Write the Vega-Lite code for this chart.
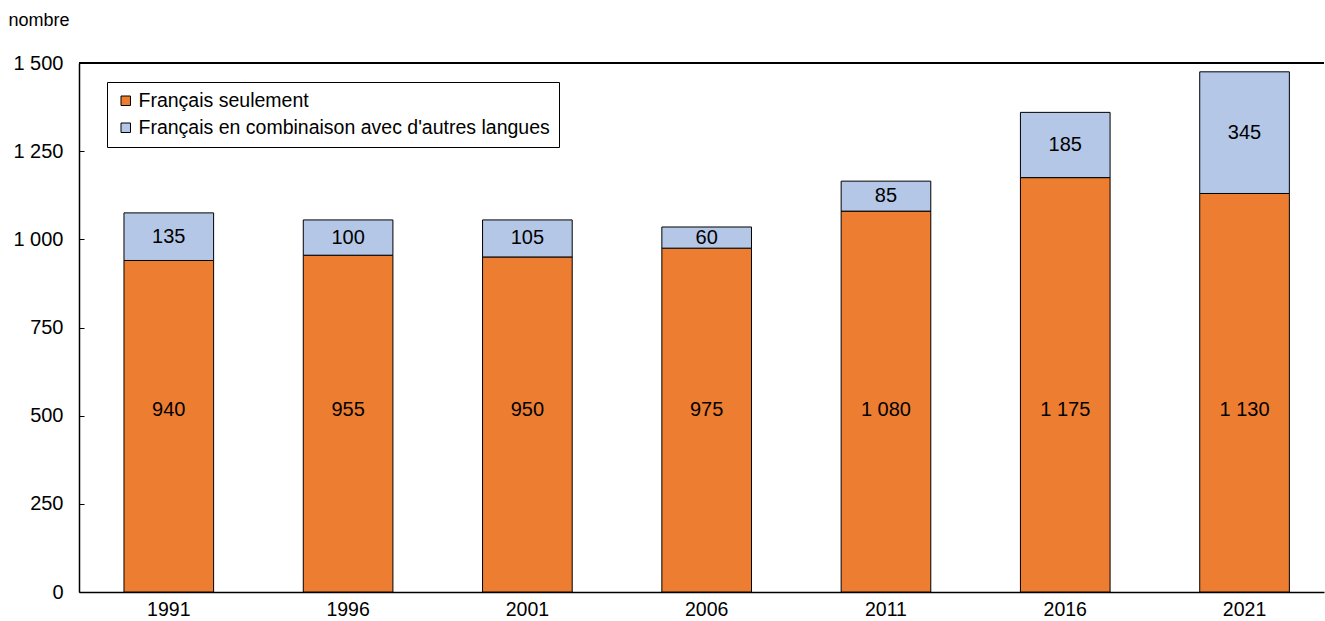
{
  "$schema": "https://vega.github.io/schema/vega-lite/v6.json",
  "width": 1245,
  "height": 529,
  "autosize": {"type": "none"},
  "padding": {"left": 79, "top": 63, "right": 1, "bottom": 29},
  "background": "white",
  "config": {
    "locale": {"number": {"decimal": ",", "thousands": " ", "grouping": [3], "currency": ["", " $"]}},
    "view": {"stroke": null},
    "font": "Liberation Sans",
    "axis": {"domainColor": "black", "labelColor": "black", "tickColor": "black", "grid": false, "labelFont": "Liberation Sans", "labelFontSize": 19.5, "titleFont": "Liberation Sans"},
    "legend": {"labelFont": "Liberation Sans", "labelFontSize": 19.5, "labelColor": "black", "labelLimit": 600}
  },
  "data": {
    "values": [
      {"annee": "1991", "serie": "Français seulement", "nombre": 940, "rang": 1},
      {"annee": "1991", "serie": "Français en combinaison avec d'autres langues", "nombre": 135, "rang": 2},
      {"annee": "1996", "serie": "Français seulement", "nombre": 955, "rang": 1},
      {"annee": "1996", "serie": "Français en combinaison avec d'autres langues", "nombre": 100, "rang": 2},
      {"annee": "2001", "serie": "Français seulement", "nombre": 950, "rang": 1},
      {"annee": "2001", "serie": "Français en combinaison avec d'autres langues", "nombre": 105, "rang": 2},
      {"annee": "2006", "serie": "Français seulement", "nombre": 975, "rang": 1},
      {"annee": "2006", "serie": "Français en combinaison avec d'autres langues", "nombre": 60, "rang": 2},
      {"annee": "2011", "serie": "Français seulement", "nombre": 1080, "rang": 1},
      {"annee": "2011", "serie": "Français en combinaison avec d'autres langues", "nombre": 85, "rang": 2},
      {"annee": "2016", "serie": "Français seulement", "nombre": 1175, "rang": 1},
      {"annee": "2016", "serie": "Français en combinaison avec d'autres langues", "nombre": 185, "rang": 2},
      {"annee": "2021", "serie": "Français seulement", "nombre": 1130, "rang": 1},
      {"annee": "2021", "serie": "Français en combinaison avec d'autres langues", "nombre": 345, "rang": 2}
    ]
  },
  "encoding": {
    "x": {
      "field": "annee", "type": "nominal",
      "scale": {"paddingInner": 0.5, "paddingOuter": 0.222, "align": 0.565},
      "axis": {"title": null, "labelAngle": 0, "ticks": false, "labelPadding": 8, "domainWidth": 1.5}
    }
  },
  "layer": [
    {
      "mark": {"type": "bar", "stroke": "black", "strokeWidth": 1},
      "encoding": {
        "y": {
          "field": "nombre", "type": "quantitative", "stack": "zero",
          "scale": {"domain": [0, 1500], "nice": false},
          "axis": {
            "values": [0, 250, 500, 750, 1000, 1250, 1500],
            "format": ",.0f",
            "tickSize": -5,
            "labelPadding": 21,
            "labelFontSize": 20,
            "domainWidth": 1.5,
            "title": "nombre",
            "titleAngle": 0,
            "titleAlign": "left",
            "titleBaseline": "middle",
            "titleX": -71,
            "titleY": -43,
            "titleFontSize": 18,
            "titleFontWeight": "normal",
            "titleColor": "black"
          }
        },
        "color": {
          "field": "serie", "type": "nominal",
          "scale": {"domain": ["Français seulement", "Français en combinaison avec d'autres langues"], "range": ["#ED7D31", "#B4C7E7"]},
          "legend": {
            "title": null,
            "orient": "none",
            "legendX": 28,
            "legendY": 19,
            "symbolType": "square",
            "symbolSize": 90,
            "symbolStrokeColor": "black",
            "symbolStrokeWidth": 1,
            "symbolOpacity": 1,
            "labelOffset": 3,
            "labelLimit": 600,
            "rowPadding": 6,
            "padding": 9,
            "strokeColor": "black",
            "fillColor": "white"
          }
        },
        "order": {"field": "rang", "type": "ordinal"}
      }
    },
    {
      "mark": {"type": "rule", "color": "black", "strokeWidth": 1.5},
      "encoding": {"y": {"datum": 1500, "type": "quantitative"}, "x": null}
    },
    {
      "transform": [{"filter": "datum.rang == 1"}],
      "mark": {"type": "text", "fontSize": 20, "color": "black", "baseline": "middle"},
      "encoding": {
        "y": {"datum": 517, "type": "quantitative"},
        "text": {"field": "nombre", "type": "quantitative", "format": ","}
      }
    },
    {
      "transform": [
        {"stack": "nombre", "groupby": ["annee"], "sort": [{"field": "rang"}], "as": ["bas", "haut"]},
        {"filter": "datum.rang == 2"},
        {"calculate": "(datum.bas + datum.haut) / 2", "as": "milieu"}
      ],
      "mark": {"type": "text", "fontSize": 20, "color": "black", "baseline": "middle"},
      "encoding": {
        "y": {"field": "milieu", "type": "quantitative"},
        "text": {"field": "nombre", "type": "quantitative", "format": ","}
      }
    }
  ]
}
